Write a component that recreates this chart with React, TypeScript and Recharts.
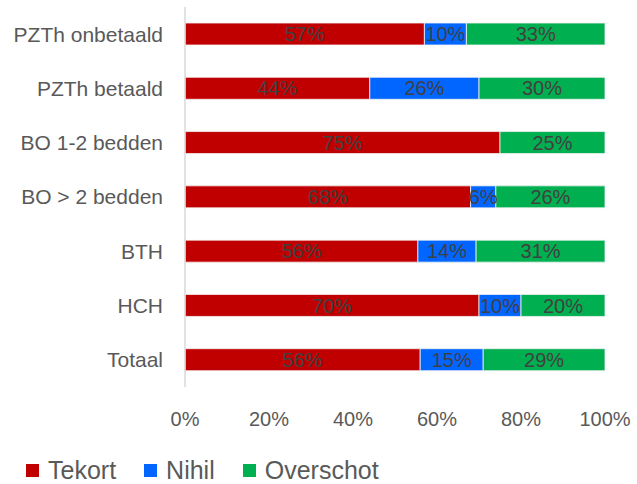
import { BarChart, Bar, XAxis, YAxis, LabelList } from "recharts";

const categories = [
  "PZTh onbetaald",
  "PZTh betaald",
  "BO 1-2 bedden",
  "BO > 2 bedden",
  "BTH",
  "HCH",
  "Totaal",
];
const tekort = [57, 44, 75, 68, 56, 70, 56];
const nihil = [10, 26, 0, 6, 14, 10, 15];
const overschot = [33, 30, 25, 26, 31, 20, 29];
const xTicks = [0, 0.2, 0.4, 0.6, 0.8, 1];

const series = [
  { key: "tekort", name: "Tekort", color: "#C00000" },
  { key: "nihil", name: "Nihil", color: "#0066FF" },
  { key: "overschot", name: "Overschot", color: "#00B050" },
];

const data = categories.map((name, i) => ({
  name,
  tekort: tekort[i],
  nihil: nihil[i],
  overschot: overschot[i],
}));

const font = "'Liberation Sans', Arial, sans-serif";

export default function App() {
  return (
    <div
      style={{
        position: "absolute",
        left: 0,
        top: 0,
        width: 637,
        height: 484,
        background: "#fff",
        fontFamily: font,
      }}
    >
      <BarChart
        width={637}
        height={440}
        data={data}
        layout="vertical"
        stackOffset="expand"
        barSize={22}
        margin={{ top: 7, right: 32, bottom: 0, left: 0 }}
      >
        <XAxis
          type="number"
          domain={[0, 1]}
          ticks={xTicks}
          tickFormatter={(v) => `${Math.round(v * 100)}%`}
          axisLine={false}
          tickLine={false}
          tickSize={0}
          tickMargin={25}
          height={53}
          tick={{ fill: "#595959", fontSize: 20, fontFamily: font }}
          interval={0}
        />
        <YAxis
          type="category"
          dataKey="name"
          width={185}
          axisLine={{ stroke: "#d9d9d9", strokeWidth: 1.5 }}
          tickLine={false}
          tickSize={0}
          tickMargin={22}
          tick={{ fill: "#595959", fontSize: 21, fontFamily: font }}
          interval={0}
        />
        {series.map((s) => (
          <Bar
            key={s.key}
            dataKey={s.key}
            name={s.name}
            stackId="a"
            fill={s.color}
            stroke="#f2f2f2"
            strokeWidth={0.8}
            isAnimationActive={false}
          >
            <LabelList
              dataKey={s.key}
              position="center"
              formatter={(v: any) => (v ? `${v}%` : "")}
              fill="#404040"
              fontSize={20}
              fontFamily={font}
            />
          </Bar>
        ))}
      </BarChart>
      <div
        style={{
          position: "absolute",
          left: 26,
          top: 455,
          display: "flex",
          alignItems: "center",
          fontSize: 25,
          color: "#595959",
          lineHeight: "30px",
        }}
      >
        {series.map((s) => (
          <div
            key={s.key}
            style={{ display: "flex", alignItems: "center", marginRight: 28 }}
          >
            <span
              style={{
                display: "inline-block",
                width: 13,
                height: 13,
                background: s.color,
                marginRight: 9,
              }}
            />
            <span>{s.name}</span>
          </div>
        ))}
      </div>
    </div>
  );
}
